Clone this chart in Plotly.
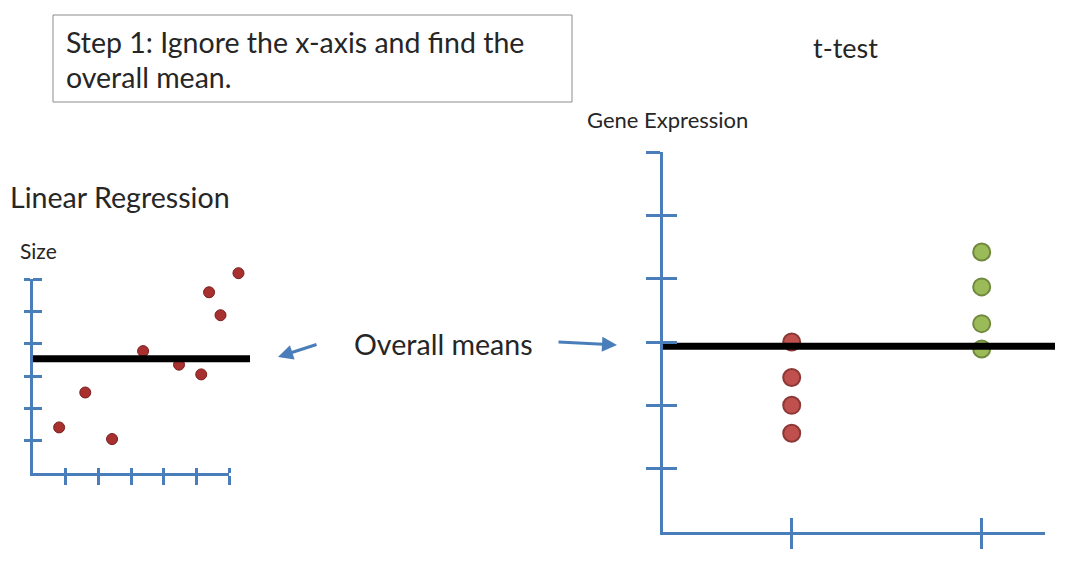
import plotly.graph_objects as go

W, H = 1086, 563

# ---------------- data ----------------
# Linear regression panel (Size vs x)
lr_x = [0.80, 1.60, 2.42, 3.37, 4.47, 5.15, 5.39, 5.74, 6.29]
lr_y = [1.41, 2.49, 1.05, 3.77, 3.35, 3.05, 5.59, 4.88, 6.18]
lr_xticks = [1, 2, 3, 4, 5, 6]
lr_yticks = [1, 2, 3, 4, 5, 6]

# t-test panel (Gene Expression in two groups)
tt_groups = [1, 2]
tt_red = [3.00, 2.44, 2.00, 1.56]
tt_green = [4.42, 3.87, 3.29, 2.89]
tt_yticks = [1, 2, 3, 4, 5, 6]

lr_mean = sum(lr_y) / len(lr_y)
tt_all = tt_red + tt_green
tt_mean = sum(tt_all) / len(tt_all)

# ---------------- styling ----------------
AX = "#4a7ebb"
FONT = "Lato"
TXT = "#262626"


def px(x):
    return x / W


def py(y):
    return 1 - y / H


fig = go.Figure()

# Wider companion axes (same scale as the visible axes) so marks that run past
# the drawn axis ends stay visible; they also carry the inner halves of the ticks.
L_SX = (229 - 33) / 6.0      # px per unit, left x
L_SY = (473 - 279) / 6.0     # px per unit, left y
L_X3 = [0, (250 - 33) / L_SX]
L_Y3 = [0, (473 - 262) / L_SY]
R_X4 = [0.3226, 0.3226 + (1055 - 663) / 190.0]

# empty trace so the visible left axes are drawn
fig.add_trace(go.Scatter(x=[], y=[], xaxis="x", yaxis="y", mode="markers",
                         showlegend=False, hoverinfo="skip"))

# left panel points
fig.add_trace(go.Scatter(
    x=lr_x, y=lr_y, mode="markers", xaxis="x3", yaxis="y3", cliponaxis=False,
    marker=dict(size=11, color="#a8302e", line=dict(color="#7a1c1c", width=1)),
    showlegend=False, hoverinfo="skip"))

# right panel points
fig.add_trace(go.Scatter(
    x=[tt_groups[0]] * len(tt_red), y=tt_red, mode="markers", xaxis="x2", yaxis="y2",
    cliponaxis=False,
    marker=dict(size=17, color="#c0504d", line=dict(color="#8c3836", width=2)),
    showlegend=False, hoverinfo="skip"))
fig.add_trace(go.Scatter(
    x=[tt_groups[1]] * len(tt_green), y=tt_green, mode="markers", xaxis="x2", yaxis="y2",
    cliponaxis=False,
    marker=dict(size=17, color="#9bbb59", line=dict(color="#71893f", width=2)),
    showlegend=False, hoverinfo="skip"))

# mean lines
fig.add_trace(go.Scatter(
    x=L_X3, y=[lr_mean, lr_mean], mode="lines", xaxis="x3", yaxis="y3",
    line=dict(color="black", width=7), showlegend=False, hoverinfo="skip"))
fig.add_trace(go.Scatter(
    x=R_X4, y=[tt_mean, tt_mean], mode="lines", xaxis="x4", yaxis="y4",
    line=dict(color="black", width=7), showlegend=False, hoverinfo="skip"))

common = dict(showgrid=False, zeroline=False, showticklabels=False, fixedrange=True)
vis = dict(common, showline=True, linecolor=AX, linewidth=3, tickcolor=AX, tickwidth=3)
inner = dict(common, showline=False, tickcolor=AX, tickwidth=3, ticks="inside")

L_dom_x = [px(33), px(229)]
L_dom_y = [py(473), py(279)]
R_dom_x = [px(663), px(1045)]
R_dom_y = [py(532), py(152)]

fig.update_layout(
    width=W, height=H,
    margin=dict(l=0, r=0, t=0, b=0),
    paper_bgcolor="white", plot_bgcolor="rgba(0,0,0,0)",
    xaxis=dict(vis, domain=L_dom_x, range=[0, 6], anchor="y",
               tickvals=lr_xticks, ticks="outside", ticklen=9),
    yaxis=dict(vis, domain=L_dom_y, range=[0, 6], anchor="x",
               tickvals=lr_yticks, ticks="outside", ticklen=6),
    xaxis2=dict(vis, domain=R_dom_x, range=[0.3226, 2.3332], anchor="y2",
                tickvals=tt_groups, ticks="outside", ticklen=14),
    yaxis2=dict(vis, domain=R_dom_y, range=[0, 6], anchor="x2",
                tickvals=tt_yticks, ticks="outside", ticklen=14),
    xaxis3=dict(inner, domain=[px(33), px(250)], range=L_X3, anchor="y3",
                tickvals=lr_xticks, ticklen=5),
    yaxis3=dict(inner, domain=[py(473), py(262)], range=L_Y3, anchor="x3",
                tickvals=lr_yticks, ticklen=9),
    xaxis4=dict(inner, domain=[px(663), px(1055)], range=R_X4, anchor="y4",
                tickvals=tt_groups, ticklen=14),
    yaxis4=dict(inner, domain=R_dom_y, range=[0, 6], anchor="x4",
                tickvals=tt_yticks, ticklen=14),
)

# text box
fig.add_shape(type="rect", xref="paper", yref="paper",
              x0=px(53), x1=px(572), y0=py(102), y1=py(15),
              line=dict(color="#8c8c8c", width=1), fillcolor="rgba(0,0,0,0)")


def text(s, x, y, size, anchor="left"):
    fig.add_annotation(text=s, xref="paper", yref="paper", x=px(x), y=py(y),
                       xanchor=anchor, yanchor="middle", showarrow=False,
                       font=dict(family=FONT, size=size, color=TXT))


text("Step 1: Ignore the x-axis and find the", 64, 42, 28.5)
text("overall mean.", 64, 77, 28.5)
text("t-test", 845, 48, 27, anchor="center")
text("Gene Expression", 585, 119, 22)
text("Linear Regression", 8, 197, 28.6)
text("Size", 18, 251, 21)
text("Overall means", 352, 344, 28.6)

# arrows
for hx, hy, tx, ty in [(278, 357, 318, 344), (617, 345, 557, 342)]:
    fig.add_annotation(x=px(hx), y=py(hy), xref="paper", yref="paper",
                       ax=tx - hx, ay=ty - hy, axref="pixel", ayref="pixel",
                       text="", showarrow=True, arrowhead=2, arrowsize=1,
                       arrowwidth=3, arrowcolor=AX)

fig.write_html("out.html", config={"displayModeBar": False},
               post_script="document.body.style.margin='0px';")
